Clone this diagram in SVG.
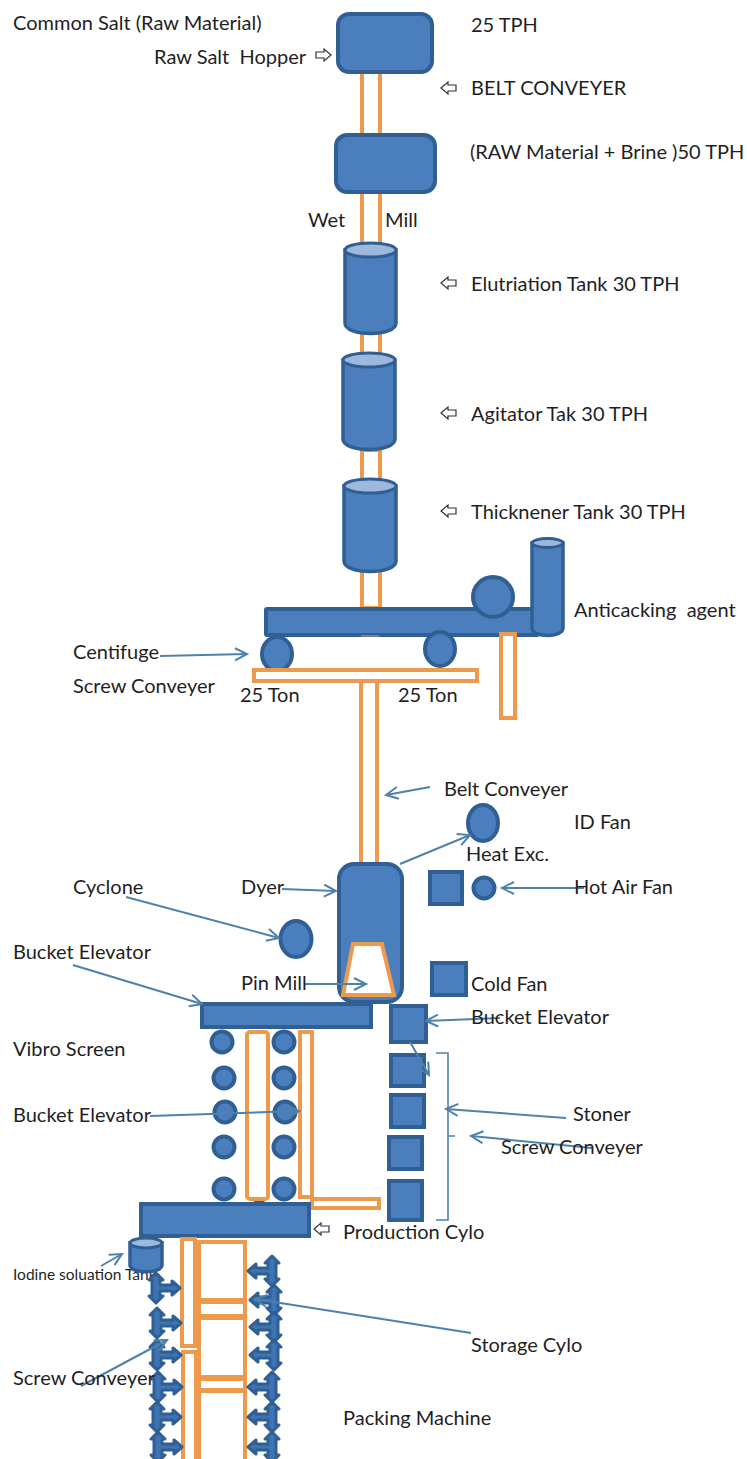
<svg xmlns="http://www.w3.org/2000/svg" xmlns:xlink="http://www.w3.org/1999/xlink" width="747" height="1459" viewBox="0 0 747 1459">
<style>
.b{fill:#4a7ebd;stroke:#2f5f93;stroke-width:4}
.c{fill:#4a7ebd;stroke:#2f5f93;stroke-width:3.5}
.top{fill:#9db8dc;stroke:#2f5f93;stroke-width:3}
.o{fill:#fff;stroke:#ee9a4d;stroke-width:4}
.l{fill:none;stroke:#4f81ad;stroke-width:2;marker-end:url(#m)}
.p{fill:none;stroke:#4f81ad;stroke-width:1.6}
.h{fill:#fff;stroke:#333;stroke-width:1.2}
.s{fill:#3f74b2;stroke:#2f5f93;stroke-width:3;stroke-linejoin:round}
text{font-family:Lato,"Liberation Sans",sans-serif;font-size:20px;fill:#1f1f1f;white-space:pre}
</style>
<defs>
<marker id="m" markerWidth="18" markerHeight="18" refX="13" refY="7" orient="auto" markerUnits="userSpaceOnUse"><path d="M1 1L13 7L1 13" fill="none" stroke="#4f81ad" stroke-width="2"/></marker>
<path id="hl" class="h" d="M0 0L7 -6V-3H15V3H7V6Z"/>
<path id="hr" class="h" d="M15 0L8 -6V-3H0V3H8V6Z"/>
<path id="sr" class="s" d="M32 0L24 -7V-3H12V-8H15L8 -15L1 -8H4V8H1L8 15L15 8H12V3H24V7Z"/>
<path id="sl" class="s" d="M0 0L8 -7V-3H20V-8H17L24 -15L31 -8H28V8H31L24 15L17 8H20V3H8V7Z"/>
</defs>

<g id="orange-lines">
<rect class="o" x="362" y="70" width="18" height="70"/>
<rect class="o" x="362" y="190" width="18" height="55"/>
<rect class="o" x="362" y="332" width="18" height="24"/>
<rect class="o" x="362" y="450" width="18" height="32"/>
<rect class="o" x="362" y="570" width="18" height="38"/>
<rect class="o" x="361" y="680" width="16" height="184"/>
</g>

<g id="raw-salt-hopper"><rect class="b" x="338" y="14" width="94" height="58" rx="11"/></g>
<g id="wet-mill"><rect class="b" x="336" y="135" width="99" height="57" rx="11"/></g>
<g id="elutriation-tank"><path class="c" d="M345 250V323C345 337 396 337 396 323V250Z"/><ellipse class="top" cx="370.500" cy="250" rx="25.500" ry="7"/></g>
<g id="agitator-tank"><path class="c" d="M343 360V439C343 453 395 453 395 439V360Z"/><ellipse class="top" cx="369" cy="360" rx="26" ry="7"/></g>
<g id="thickener-tank"><path class="c" d="M344 486V561C344 575 396 575 396 561V486Z"/><ellipse class="top" cx="370" cy="486" rx="26" ry="7"/></g>

<g id="centrifuge-bar"><rect class="b" x="266" y="609" width="272" height="26" rx="1"/><rect x="361" y="635" width="18" height="2" fill="#7d7f8f"/></g>
<g id="fan-top"><circle class="b" cx="493" cy="597" r="20"/></g>
<g id="anticaking-tank"><path class="c" d="M532 543V628C532 638 563 638 563 628V543Z"/><ellipse class="top" cx="547.500" cy="543" rx="15.500" ry="4.500"/></g>
<g id="centrifuge-left"><ellipse class="b" cx="277" cy="654" rx="15" ry="17"/></g>
<g id="centrifuge-right"><ellipse class="b" cx="440" cy="649" rx="15" ry="17"/></g>
<g id="screw-plate"><rect class="o" x="254" y="670" width="223" height="11"/></g>
<g id="chute"><rect class="o" x="501" y="634" width="14" height="84"/></g>

<g id="id-fan"><ellipse class="b" cx="483" cy="823" rx="15" ry="18"/></g>
<g id="heat-exchanger"><rect class="b" x="430" y="872" width="32" height="32"/></g>
<g id="hot-air-fan"><circle class="b" cx="484" cy="888" r="10.500"/></g>
<g id="cold-fan"><rect class="b" x="432" y="963" width="34" height="32"/></g>
<g id="dryer"><rect class="b" x="339" y="864" width="63" height="138" rx="15"/></g>
<g id="pin-mill"><path class="o" d="M353 944H382L394 995H343Z"/></g>
<g id="cyclone"><ellipse class="b" cx="296" cy="939" rx="15.500" ry="18"/></g>

<g id="bucket-bar"><rect class="b" x="202" y="1004" width="169" height="23"/></g>
<g id="elevator-box"><rect class="b" x="391" y="1006" width="35" height="36"/></g>
<g id="stoner-1"><rect class="b" x="391" y="1055" width="33" height="31"/></g>
<g id="stoner-2"><rect class="b" x="391" y="1095" width="33" height="32"/></g>
<g id="stoner-3"><rect class="b" x="389" y="1137" width="33" height="32"/></g>
<g id="stoner-4"><rect class="b" x="389" y="1181" width="33" height="39"/></g>

<g id="vibro-columns">
<path d="M250 1198Q260 1206 267 1198" fill="none" stroke="#2f5f93" stroke-width="2"/>
<rect class="o" x="247" y="1032" width="21" height="167" rx="3"/>
<rect class="o" x="300" y="1032" width="12" height="165"/>
<rect class="o" x="312" y="1199" width="67" height="9"/>
<circle class="b" cx="222" cy="1042" r="10.500"/><circle class="b" cx="284" cy="1042" r="10.500"/>
<circle class="b" cx="224" cy="1078" r="10.500"/><circle class="b" cx="284" cy="1078" r="10.500"/>
<circle class="b" cx="225" cy="1112" r="10.500"/><circle class="b" cx="285" cy="1112" r="10.500"/>
<circle class="b" cx="224" cy="1147" r="10.500"/><circle class="b" cx="284" cy="1147" r="10.500"/>
<circle class="b" cx="224" cy="1189" r="10.500"/><circle class="b" cx="284" cy="1189" r="10.500"/>
</g>
<g id="production-cylo"><rect class="b" x="141" y="1204" width="168" height="32"/></g>

<g id="packing-orange">
<rect class="o" x="182" y="1239" width="13" height="107"/>
<rect class="o" x="183" y="1352" width="13" height="115"/>
<rect class="o" x="199" y="1242" width="46" height="58"/>
<rect class="o" x="199" y="1302" width="46" height="14"/>
<rect class="o" x="199" y="1318" width="46" height="59"/>
<rect class="o" x="199" y="1379" width="46" height="11"/>
<rect class="o" x="199" y="1391" width="46" height="72"/>
</g>
<text id="iodine-label" x="13" y="1280" style="font-size:15.500px">Iodine soluation Tank</text>
<g id="left-screws">
<use xlink:href="#sr" x="148" y="1288"/><use xlink:href="#sr" x="149" y="1323"/><use xlink:href="#sr" x="149" y="1355"/>
<use xlink:href="#sr" x="150" y="1387"/><use xlink:href="#sr" x="149" y="1417"/><use xlink:href="#sr" x="150" y="1447"/>
</g>
<g id="right-screws">
<use xlink:href="#sl" x="248" y="1271"/><use xlink:href="#sl" x="250" y="1300"/><use xlink:href="#sl" x="250" y="1327"/>
<use xlink:href="#sl" x="250" y="1355"/><use xlink:href="#sl" x="248" y="1387"/><use xlink:href="#sl" x="248" y="1417"/><use xlink:href="#sl" x="248" y="1447"/>
</g>
<g id="iodine-tank"><path class="c" d="M130 1243V1265C130 1274 162 1274 162 1265V1243Z"/><ellipse class="top" cx="146" cy="1243" rx="16" ry="5"/></g>

<g id="connectors">
<use xlink:href="#hr" x="316" y="55"/>
<use xlink:href="#hl" x="441" y="88"/>
<use xlink:href="#hl" x="441" y="283"/>
<use xlink:href="#hl" x="441" y="413"/>
<use xlink:href="#hl" x="441" y="511"/>
<use xlink:href="#hl" x="314" y="1229"/>
<path class="l" d="M160 656L247 654"/>
<path class="l" d="M430 787L386 795"/>
<path class="l" d="M400 864L470 835"/>
<path class="l" d="M282 889L336 891"/>
<path class="l" d="M584 888L502 888"/>
<path class="l" d="M126 897L279 938"/>
<path class="l" d="M305 984L366 984"/>
<path class="l" d="M73 965L202 1004"/>
<path class="l" d="M500 1018L426 1021"/>
<path class="l" d="M410 1042L429 1075"/>
<path class="l" d="M566 1118L446 1109"/>
<path class="l" d="M592 1148L471 1136"/>
<path class="l" d="M150 1116L299 1111"/>
<path class="p" d="M436 1053H448V1220H436M448 1136H455"/>
<path class="l" d="M101 1266L122 1254"/>
<path class="l" d="M471 1333L255 1299"/>
<path class="l" d="M81 1386L167 1340"/>
</g>

<g id="labels">
<text x="13" y="30">Common Salt (Raw Material)</text>
<text x="154" y="64">Raw Salt  Hopper</text>
<text x="471" y="32">25 TPH</text>
<text x="471" y="95">BELT CONVEYER</text>
<text x="470" y="159">(RAW Material + Brine )50 TPH</text>
<text x="308" y="227">Wet</text>
<text x="385" y="227">Mill</text>
<text x="471" y="291">Elutriation Tank 30 TPH</text>
<text x="471" y="421">Agitator Tak 30 TPH</text>
<text x="471" y="519">Thicknener Tank 30 TPH</text>
<text x="574" y="617">Anticacking  agent</text>
<text x="73" y="659">Centifuge</text>
<text x="73" y="693">Screw Conveyer</text>
<text x="240" y="702">25 Ton</text>
<text x="398" y="702">25 Ton</text>
<text x="444" y="796">Belt Conveyer</text>
<text x="574" y="829">ID Fan</text>
<text x="466" y="861">Heat Exc.</text>
<text x="73" y="894">Cyclone</text>
<text x="241" y="894">Dyer</text>
<text x="574" y="894">Hot Air Fan</text>
<text x="13" y="959">Bucket Elevator</text>
<text x="241" y="990">Pin Mill</text>
<text x="471" y="991">Cold Fan</text>
<text x="471" y="1024">Bucket Elevator</text>
<text x="13" y="1056">Vibro Screen</text>
<text x="13" y="1122">Bucket Elevator</text>
<text x="573" y="1121">Stoner</text>
<text x="501" y="1154">Screw Conveyer</text>
<text x="343" y="1239">Production Cylo</text>
<text x="471" y="1352">Storage Cylo</text>
<text x="13" y="1385">Screw Conveyer</text>
<text x="343" y="1425">Packing Machine</text>
</g>
</svg>
